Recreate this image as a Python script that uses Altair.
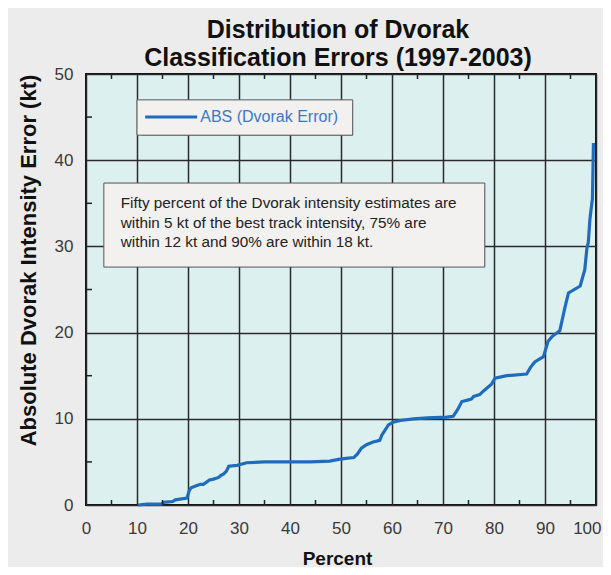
import altair as alt
import pandas as pd

# ---------------- data ----------------
percent = [10.2, 12.0, 14.8, 15.2, 17.0, 17.5, 19.8, 20.2, 20.6, 21.5, 22.4, 23.0, 23.5,
           24.2, 25.0, 26.0, 26.4, 27.0, 27.5, 28.0, 29.6, 31.5, 35.0, 38.0, 44.0, 47.8, 49.5,
           51.0, 52.5, 53.2, 54.0, 55.0, 56.3, 57.6, 58.0, 59.3, 60.2, 61.6, 64.2,
           67.0, 70.7, 72.0, 72.8, 73.7, 75.0, 75.6, 76.0, 77.2, 77.9, 79.5, 80.2, 82.5, 86.4,
           87.2, 88.0, 89.7, 90.6, 91.5, 92.9, 93.9, 94.6, 96.9, 97.8, 98.2, 98.5,
           98.8, 99.2, 99.3, 99.5]
abs_error = [0.0, 0.1, 0.1, 0.3, 0.4, 0.6, 0.8, 1.6, 2.0, 2.2, 2.4, 2.4, 2.6,
             2.9, 3.0, 3.2, 3.4, 3.6, 3.9, 4.5, 4.6, 4.9, 5.0, 5.0, 5.0, 5.1, 5.3,
             5.4, 5.5, 5.9, 6.6, 7.0, 7.3, 7.5, 8.1, 9.3, 9.6, 9.8, 10.0,
             10.1, 10.2, 10.3, 11.0, 12.0, 12.2, 12.3, 12.6, 12.8, 13.2, 14.0, 14.7, 15.0, 15.2,
             16.0, 16.6, 17.2, 19.0, 19.6, 20.2, 22.9, 24.6, 25.4, 27.3, 29.7, 30.5,
             33.1, 35.1, 35.5, 42.0]

x_ticks = [0, 10, 20, 30, 40, 50, 60, 70, 80, 90, 100]
y_ticks = [0, 10, 20, 30, 40, 50]
x_minor = [5, 15, 25, 35, 45, 55, 65, 75, 85, 95]
y_minor = [5, 15, 25, 35, 45]

title_lines = ["Distribution of Dvorak", "Classification Errors (1997-2003)"]
x_title = "Percent"
y_title = "Absolute Dvorak Intensity Error (kt)"
legend_label = "ABS (Dvorak Error)"
note_lines = ["Fifty percent of the Dvorak intensity estimates are",
              "within 5 kt of the best track intensity,  75% are",
              "within 12 kt and 90% are within 18 kt."]

# annotation boxes, in data units (percent, kt)
legend_box = dict(x=10.0, x2=52.3, y=47.0, y2=42.9)
legend_swatch = dict(x=11.6, x2=21.8, y=45.0)
legend_text_pos = dict(x=22.4, y=45.0)
note_box = dict(x=3.5, x2=78.2, y=37.35, y2=27.6)
note_text_pos = dict(x=6.8, y=35.0)

FONT = "Liberation Sans"
LINE_BLUE = "#1f6cbc"

curve = pd.DataFrame({"pct": percent, "err": abs_error})

xscale = alt.Scale(domain=[0, 100], nice=False)
yscale = alt.Scale(domain=[0, 50], nice=False)

x_axis = alt.Axis(values=x_ticks, grid=True, title=x_title, domain=False, ticks=False,
                  tickSize=0, labelPadding=15,
                  labelAlign=alt.condition("datum.value == 100", alt.value("right"), alt.value("center")),
                  labelOffset=alt.condition("datum.value == 100", alt.value(5), alt.value(0)),
                  titleFontSize=19, titleX=251, titleY=59, titleBaseline="alphabetic")
y_axis = alt.Axis(values=y_ticks, grid=True, title=y_title, domain=False, ticks=False,
                  tickSize=0, labelPadding=13,
                  titleFontSize=22, titleX=-58, titleY=186, titleAngle=270,
                  titleBaseline="middle", titleAlign="center")

line = alt.Chart(curve).mark_line(color=LINE_BLUE, strokeWidth=3.2, interpolate="linear").encode(
    x=alt.X("pct:Q", scale=xscale, axis=x_axis),
    y=alt.Y("err:Q", scale=yscale, axis=y_axis),
)

xm = pd.DataFrame({"m": x_minor})
ym = pd.DataFrame({"m": y_minor})
tick_color = "#222222"
top_ticks = alt.Chart(xm).mark_rule(color=tick_color, strokeWidth=1.5).encode(
    x=alt.X("m:Q", scale=xscale), y=alt.value(0), y2=alt.value(5))
bottom_ticks = alt.Chart(xm).mark_rule(color=tick_color, strokeWidth=1.5).encode(
    x=alt.X("m:Q", scale=xscale), y=alt.value(431), y2=alt.value(426))
left_ticks = alt.Chart(ym).mark_rule(color=tick_color, strokeWidth=1.5).encode(
    y=alt.Y("m:Q", scale=yscale), x=alt.value(0), x2=alt.value(6))

lb = pd.DataFrame([legend_box])
nb = pd.DataFrame([note_box])

def box_layers(df, off):
    shadow = alt.Chart(df).mark_rect(color="#111111", xOffset=off, yOffset=off).encode(
        x=alt.X("x:Q", scale=xscale), x2="x2:Q", y=alt.Y("y:Q", scale=yscale), y2="y2:Q")
    face = alt.Chart(df).mark_rect(fill="#f3f0f0", stroke="#555555", strokeWidth=1).encode(
        x=alt.X("x:Q", scale=xscale), x2="x2:Q", y=alt.Y("y:Q", scale=yscale), y2="y2:Q")
    return shadow + face

swatch = alt.Chart(pd.DataFrame([legend_swatch])).mark_rule(color=LINE_BLUE, strokeWidth=3).encode(
    x=alt.X("x:Q", scale=xscale), x2="x2:Q", y=alt.Y("y:Q", scale=yscale))
legend_txt = alt.Chart(pd.DataFrame([dict(legend_text_pos, t=legend_label)])).mark_text(
    align="left", baseline="middle", font=FONT, fontSize=16, color="#3a78c8").encode(
    x=alt.X("x:Q", scale=xscale), y=alt.Y("y:Q", scale=yscale), text="t:N")
note_txt = alt.Chart(pd.DataFrame([dict(note_text_pos, t="\n".join(note_lines))])).mark_text(
    align="left", baseline="middle", font=FONT, fontSize=15.3, color="#222222",
    lineBreak="\n", lineHeight=19.5).encode(
    x=alt.X("x:Q", scale=xscale), y=alt.Y("y:Q", scale=yscale), text="t:N")

chart = alt.layer(
    line, top_ticks, bottom_ticks, left_ticks,
    box_layers(lb, 5), swatch, legend_txt,
    box_layers(nb, 5), note_txt,
).properties(
    width=510, height=431,
    title=alt.TitleParams(text=title_lines, font=FONT, fontSize=25, fontWeight="bold",
                          lineHeight=28, color="#111111", anchor="middle", offset=6,
                          baseline="bottom", dx=-3, dy=37),
    background="#ececec",
    padding={"left": 78, "top": 66, "right": 7, "bottom": 62},
    autosize=alt.AutoSizeParams(type="none"),
).configure_view(
    fill="#ddf0f0", stroke="#111111", strokeWidth=2,
).configure_axis(
    gridColor="#2a2a2a", gridWidth=1.5, gridOpacity=1,
    labelFont=FONT, labelFontSize=17, labelColor="#3a3a3a",
    titleFont=FONT, titleFontWeight="bold", titleColor="#111111",
)

chart.save("out.html", embed_options={"renderer": "svg", "actions": False})
